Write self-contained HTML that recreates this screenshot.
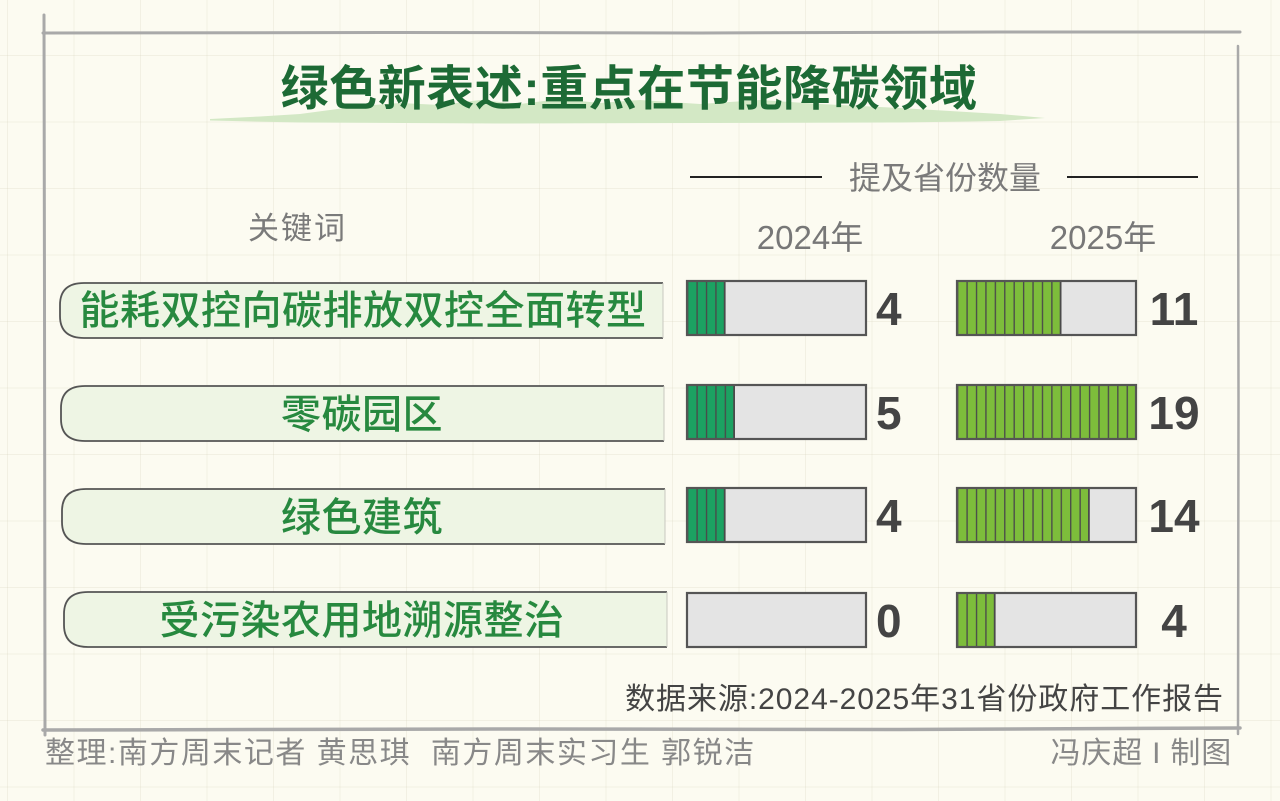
<!DOCTYPE html>
<html>
<head>
<meta charset="utf-8">
<style>
  html, body { margin: 0; padding: 0; }
  body {
    width: 1280px; height: 801px; overflow: hidden;
    background-color: #fcfbf1;
    background-image:
      linear-gradient(to right, rgba(215,212,190,0.28) 1px, transparent 1px),
      linear-gradient(to bottom, rgba(215,212,190,0.28) 1px, transparent 1px);
    background-size: 66.5px 66.5px;
    background-position: 7px 55px;
  }
  svg { position: absolute; left: 0; top: 0; }
  text { font-family: "Liberation Sans", "Noto Sans CJK SC", sans-serif; }
</style>
</head>
<body>
<svg width="1280" height="801" viewBox="0 0 1280 801" xmlns="http://www.w3.org/2000/svg">
  <defs>
    <pattern id="p24" patternUnits="userSpaceOnUse" x="687" y="0" width="9.421" height="801">
      <rect x="0" y="0" width="9.421" height="801" fill="#1ca262"/>
      <line x1="0.6" y1="0" x2="0.6" y2="801" stroke="#4a4a4a" stroke-width="1.5"/>
    </pattern>
    <pattern id="p25" patternUnits="userSpaceOnUse" x="957" y="0" width="9.421" height="801">
      <rect x="0" y="0" width="9.421" height="801" fill="#7dbd3b"/>
      <line x1="0.6" y1="0" x2="0.6" y2="801" stroke="#4a4a4a" stroke-width="1.5"/>
    </pattern>
  </defs>

  <!-- frame -->
  <g stroke="#a9a9a9" stroke-linecap="round" fill="none">
    <path d="M43,33 L400,32.5 L700,33 L1000,32 L1240,32" stroke-width="3"/>
    <path d="M44,15 L44.5,300 L45,735" stroke-width="3"/>
    <path d="M1238,46 L1238.5,400 L1238,734" stroke-width="2.5"/>
    <path d="M43,730 L500,729 L900,729.5 L1240,728" stroke-width="3.5"/>
  </g>

  <!-- title brush -->
  <path d="M210,119 L260,116.5 L300,114 L330,110 L360,106 L400,103 L440,105 L480,100 L520,104 L560,99 L600,103 L640,100 L700,104 L760,100 L820,104 L860,106 L900,108 L950,111 L1000,114 L1045,118 L1000,121 L900,122.5 L700,123 L500,123.5 L300,122.5 L210,120.5 Z" fill="#d3e8c5"/>

  <!-- title -->
  <text x="629" y="105" text-anchor="middle" font-size="48" font-weight="bold" letter-spacing="0.6" fill="#1d6a35">绿色新表述:重点在节能降碳领域</text>

  <!-- header -->
  <line x1="690" y1="177" x2="822" y2="177" stroke="#222" stroke-width="2"/>
  <line x1="1067" y1="177" x2="1198" y2="177" stroke="#222" stroke-width="2"/>
  <text x="945" y="189" text-anchor="middle" font-size="32" fill="#7a7a7a">提及省份数量</text>
  <text x="248" y="239" font-size="31" letter-spacing="2" fill="#7a7a7a">关键词</text>
  <text x="810" y="249" text-anchor="middle" font-size="33" fill="#777">2024年</text>
  <text x="1103" y="249" text-anchor="middle" font-size="33" fill="#777">2025年</text>

  <!-- pills -->
  <g>
    <path d="M663,283 L84,283 Q60,283 60,305 L60,316 Q60,338 84,338 L663,338 Z" fill="#eef5e4"/>
    <path d="M663,283 L84,283 Q60,283 60,305 L60,316 Q60,338 84,338 L663,338" fill="none" stroke="#555" stroke-width="1.8"/>
    <line x1="663" y1="283" x2="663" y2="338" stroke="#c8c8c0" stroke-width="1"/>

    <path d="M664,386 L85,386 Q61,386 61,408 L61,419 Q61,441 85,441 L664,441 Z" fill="#eef5e4"/>
    <path d="M664,386 L85,386 Q61,386 61,408 L61,419 Q61,441 85,441 L664,441" fill="none" stroke="#555" stroke-width="1.8"/>
    <line x1="664" y1="386" x2="664" y2="441" stroke="#c8c8c0" stroke-width="1"/>

    <path d="M665,489 L86,489 Q62,489 62,511 L62,522 Q62,544 86,544 L665,544 Z" fill="#eef5e4"/>
    <path d="M665,489 L86,489 Q62,489 62,511 L62,522 Q62,544 86,544 L665,544" fill="none" stroke="#555" stroke-width="1.8"/>
    <line x1="665" y1="489" x2="665" y2="544" stroke="#c8c8c0" stroke-width="1"/>

    <path d="M667,592 L88,592 Q64,592 64,614 L64,625 Q64,647 88,647 L667,647 Z" fill="#eef5e4"/>
    <path d="M667,592 L88,592 Q64,592 64,614 L64,625 Q64,647 88,647 L667,647" fill="none" stroke="#555" stroke-width="1.8"/>
    <line x1="667" y1="592" x2="667" y2="647" stroke="#c8c8c0" stroke-width="1"/>
  </g>
  <g font-size="40" font-weight="500" fill="#27893f" text-anchor="middle">
    <text x="363" y="324" letter-spacing="0.5">能耗双控向碳排放双控全面转型</text>
    <text x="362" y="428" letter-spacing="0.5">零碳园区</text>
    <text x="362" y="531" letter-spacing="0.5">绿色建筑</text>
    <text x="362" y="634" letter-spacing="0.5">受污染农用地溯源整治</text>
  </g>

  <!-- 2024 bars -->
  <g>
    <rect x="687" y="281" width="179" height="54" fill="#e4e4e4"/>
    <rect x="687" y="281" width="37.7" height="54" fill="url(#p24)"/>
    <line x1="724.7" y1="281" x2="724.7" y2="335" stroke="#4a4a4a" stroke-width="1.8"/>
    <rect x="687" y="281" width="179" height="54" fill="none" stroke="#555" stroke-width="2.2"/>

    <rect x="687" y="385" width="179" height="54" fill="#e4e4e4"/>
    <rect x="687" y="385" width="47.1" height="54" fill="url(#p24)"/>
    <line x1="734.1" y1="385" x2="734.1" y2="439" stroke="#4a4a4a" stroke-width="1.8"/>
    <rect x="687" y="385" width="179" height="54" fill="none" stroke="#555" stroke-width="2.2"/>

    <rect x="687" y="488" width="179" height="54" fill="#e4e4e4"/>
    <rect x="687" y="488" width="37.7" height="54" fill="url(#p24)"/>
    <line x1="724.7" y1="488" x2="724.7" y2="542" stroke="#4a4a4a" stroke-width="1.8"/>
    <rect x="687" y="488" width="179" height="54" fill="none" stroke="#555" stroke-width="2.2"/>

    <rect x="687" y="593" width="179" height="54" fill="#e4e4e4"/>
    <rect x="687" y="593" width="179" height="54" fill="none" stroke="#555" stroke-width="2.2"/>
  </g>

  <!-- 2025 bars -->
  <g>
    <rect x="957" y="281" width="179" height="54" fill="#e4e4e4"/>
    <rect x="957" y="281" width="103.6" height="54" fill="url(#p25)"/>
    <line x1="1060.6" y1="281" x2="1060.6" y2="335" stroke="#4a4a4a" stroke-width="1.8"/>
    <rect x="957" y="281" width="179" height="54" fill="none" stroke="#555" stroke-width="2.2"/>

    <rect x="957" y="385" width="179" height="54" fill="#e4e4e4"/>
    <rect x="957" y="385" width="179" height="54" fill="url(#p25)"/>
    <rect x="957" y="385" width="179" height="54" fill="none" stroke="#555" stroke-width="2.2"/>

    <rect x="957" y="488" width="179" height="54" fill="#e4e4e4"/>
    <rect x="957" y="488" width="131.9" height="54" fill="url(#p25)"/>
    <line x1="1088.9" y1="488" x2="1088.9" y2="542" stroke="#4a4a4a" stroke-width="1.8"/>
    <rect x="957" y="488" width="179" height="54" fill="none" stroke="#555" stroke-width="2.2"/>

    <rect x="957" y="593" width="179" height="54" fill="#e4e4e4"/>
    <rect x="957" y="593" width="37.7" height="54" fill="url(#p25)"/>
    <line x1="994.7" y1="593" x2="994.7" y2="647" stroke="#4a4a4a" stroke-width="1.8"/>
    <rect x="957" y="593" width="179" height="54" fill="none" stroke="#555" stroke-width="2.2"/>
  </g>

  <!-- numbers -->
  <g font-size="46" font-weight="bold" fill="#444">
    <text x="876" y="325">4</text>
    <text x="876" y="429">5</text>
    <text x="876" y="532">4</text>
    <text x="876" y="637">0</text>
    <text x="1174" y="325" text-anchor="middle">11</text>
    <text x="1174" y="429" text-anchor="middle">19</text>
    <text x="1174" y="532" text-anchor="middle">14</text>
    <text x="1174" y="637" text-anchor="middle">4</text>
  </g>

  <!-- source & footer -->
  <text x="1224" y="709" text-anchor="end" font-size="30" letter-spacing="0.95" fill="#444">数据来源:2024-2025年31省份政府工作报告</text>
  <text x="45" y="763" font-size="30" letter-spacing="1.5" fill="#888" xml:space="preserve">整理:南方周末记者 黄思琪  南方周末实习生 郭锐洁</text>
  <text x="1232" y="763" text-anchor="end" font-size="30" letter-spacing="0.8" fill="#888">冯庆超 I 制图</text>
</svg>
</body>
</html>
